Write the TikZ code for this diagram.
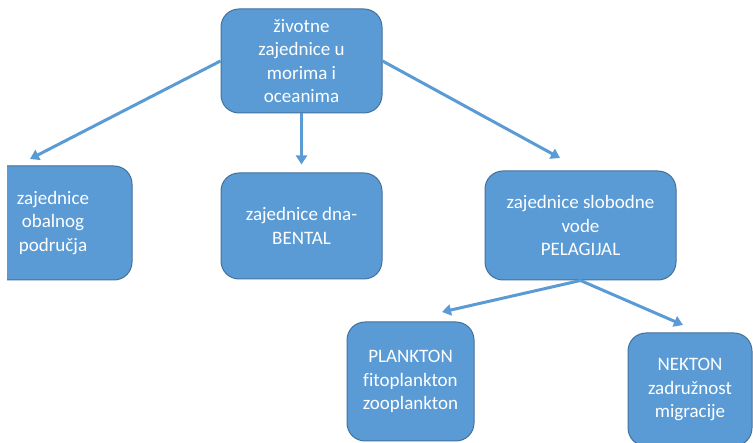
\documentclass[tikz,border=0pt]{standalone}
\usepackage{fontspec}
\setmainfont[Ligatures=NoCommon]{Carlito}
\usetikzlibrary{arrows.meta}
\definecolor{boxblue}{HTML}{5B9BD5}
\definecolor{boxline}{HTML}{41719C}

\begin{document}
\begin{tikzpicture}[x=1pt,y=-1pt,
	box/.style={draw=boxline, line width=1pt, fill=boxblue, rounded corners=18pt,
		text=white, align=center, font=\fontsize{19}{23.5}\selectfont},
	link/.style={draw=boxblue, line width=3pt, -{Triangle[length=9pt,width=11pt]}}]
	\useasboundingbox (0,0) rectangle (753,443);
	\node[box, minimum width=161pt, minimum height=104pt] (zajednice) at (301.5,61) {životne\\zajednice u\\morima i\\oceanima};
	\begin{scope}
		\clip (7,0) rectangle (753,443);
		\node[box, minimum width=158pt, minimum height=114pt] (obala) at (53,223) {zajednice\\obalnog\\područja};
	\end{scope}
	\node[box, minimum width=161pt, minimum height=106pt] (bental) at (301.5,226) {zajednice dna-\\BENTAL};
	\node[box, minimum width=191pt, minimum height=109pt] (pelagijal) at (580.5,225.5) {zajednice slobodne\\vode\\PELAGIJAL};
	\node[box, minimum width=127pt, minimum height=119pt] (plankton) at (410.5,381.5) {PLANKTON\\fitoplankton\\zooplankton};
	\node[box, minimum width=124pt, minimum height=113pt] (nekton) at (690,389.5) {NEKTON\\zadružnost\\migracije};
	% vrhovi strelica
	\coordinate (kObali) at (30,159);
	\coordinate (kPelagijalu) at (560,158);
	\coordinate (kPlanktonu) at (442,312);
	\coordinate (kNektonu) at (683,325);
	\draw[link] (zajednice.west) -- (kObali);
	\draw[link, shorten >=8pt] (zajednice.south) -- (bental.north);
	\draw[link] (zajednice.east) -- (kPelagijalu);
	\draw[link] (pelagijal.south) -- (kPlanktonu);
	\draw[link] (pelagijal.south) -- (kNektonu);
\end{tikzpicture}
\end{document}
